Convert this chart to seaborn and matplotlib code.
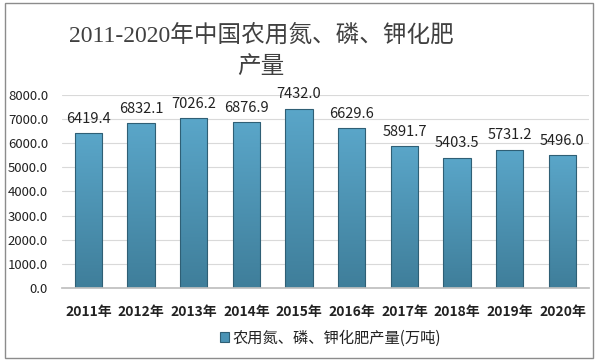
import matplotlib
matplotlib.use("Agg")
import matplotlib.pyplot as plt
import seaborn as sns
import pandas as pd
import numpy as np
from matplotlib.patches import Rectangle
from matplotlib.colors import LinearSegmentedColormap

years = ["2011年", "2012年", "2013年", "2014年", "2015年", "2016年", "2017年", "2018年", "2019年", "2020年"]
values = [6419.4, 6832.1, 7026.2, 6876.9, 7432.0, 6629.6, 5891.7, 5403.5, 5731.2, 5496.0]
series_name = "农用氮、磷、钾化肥产量(万吨)"
title_line1 = "2011-2020年中国农用氮、磷、钾化肥"
title_line2 = "产量"

sns.set_theme(style="white")
plt.rcParams['font.family'] = ['Noto Sans CJK SC', 'DejaVu Sans']

df = pd.DataFrame({"year": years, "value": values})

fig = plt.figure(figsize=(5.99, 3.62), dpi=100)
ax = fig.add_axes([0.1035, 0.2044, 0.8795, 0.5332])

sns.barplot(data=df, x="year", y="value", ax=ax, color="#4a93b5", width=0.52,
            saturation=1, edgecolor="#2f5f75", linewidth=0.8, label=series_name)

ax.set_ylim(0, 8000)
ax.set_xlim(-0.5, len(years) - 0.5)

# vertical gradient fill inside each bar
cmap = LinearSegmentedColormap.from_list("g", ["#3f7e9a", "#5aa6c9"])
grad = np.linspace(0, 1, 256).reshape(-1, 1)
for p in list(ax.patches):
    x0, w, h = p.get_x(), p.get_width(), p.get_height()
    im = ax.imshow(grad, extent=[x0, x0 + w, 0, h], origin="lower", cmap=cmap,
                   aspect="auto", zorder=p.get_zorder() + 0.1)
    im.set_clip_path(p)
    p.set_facecolor("none")
    p.set_zorder(p.get_zorder() + 0.2)
ax.set_xlim(-0.5, len(years) - 0.5)
ax.set_ylim(0, 8000)

ax.set_yticks(np.arange(0, 8001, 1000))
ax.set_yticklabels([f"{v:.1f}" for v in np.arange(0, 8001, 1000)], fontsize=9.5, color="#222222")
ax.tick_params(axis="x", labelsize=10, colors="#222222", length=0, pad=12)
ax.tick_params(axis="y", length=0, pad=10)
for lab in ax.get_xticklabels():
    lab.set_fontweight("bold")
ax.set_xlabel("")
ax.set_ylabel("")
ax.grid(axis="y", color="#d9d9d9", linewidth=0.8)
ax.set_axisbelow(True)
for s in ["left", "right", "top"]:
    ax.spines[s].set_visible(False)
ax.spines["bottom"].set_color("#bfbfbf")

for i, v in enumerate(values):
    ax.text(i, v + 300, f"{v:.1f}", ha="center", va="bottom", fontsize=10.5, color="#222222")

title_fam = ['Liberation Serif', 'Noto Sans CJK SC']
fig.text(261/599, 1 - 35/362, title_line1, ha="center", va="center", fontsize=17,
         color="#404040", family=title_fam)
fig.text(261/599, 1 - 67/362, title_line2, ha="center", va="center", fontsize=17,
         color="#404040", family=title_fam)

leg = ax.legend(loc="center", bbox_to_anchor=(0.51, -0.26), frameon=False, fontsize=11,
                handlelength=0.6, handleheight=0.6, handletextpad=0.2)
for t in leg.get_texts():
    t.set_color("#222222")
for h in leg.legend_handles:
    h.set_facecolor("#4a93b5")

fig.patches.append(Rectangle((5/599, 4/362), 588/599, 355/362, transform=fig.transFigure,
                             fill=False, edgecolor="#8c8c8c", linewidth=1))

fig.savefig("out.png", dpi=100)
